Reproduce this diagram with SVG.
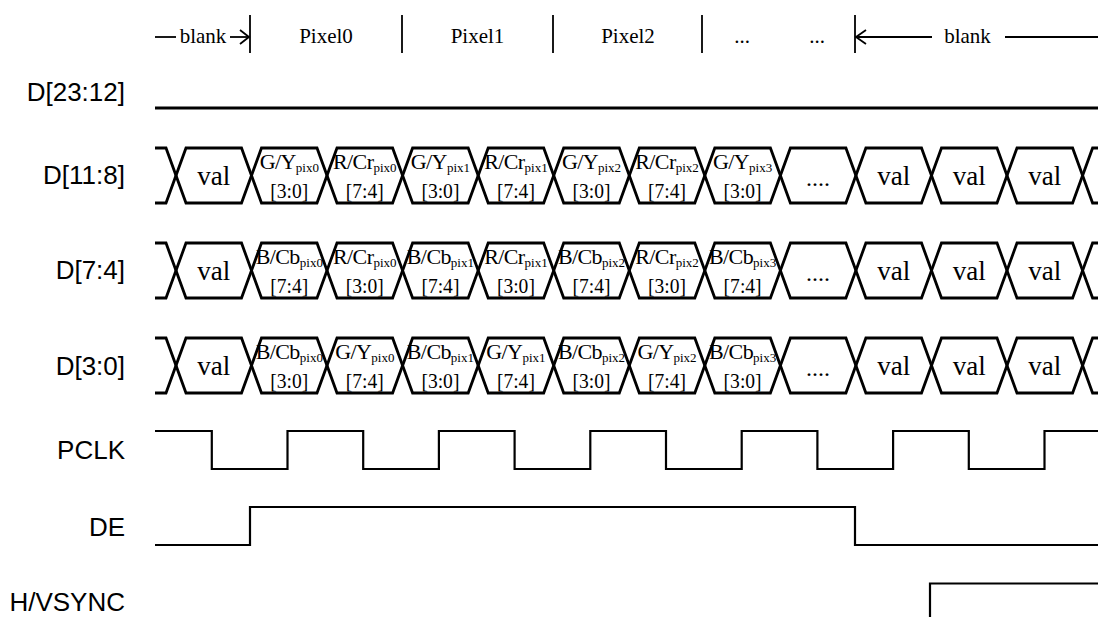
<svg xmlns="http://www.w3.org/2000/svg" xmlns:xlink="http://www.w3.org/1999/xlink" width="1098" height="617" viewBox="0 0 1098 617">
<style>
.lbl{font-family:"Liberation Sans",Arial,sans-serif;font-size:26px;fill:#000;text-anchor:end}
.hdr{font-family:"Liberation Serif","Times New Roman",serif;font-size:21px;fill:#000;text-anchor:middle}
.c1{font-family:"Liberation Serif","Times New Roman",serif;font-size:22px;fill:#000;text-anchor:middle;letter-spacing:-0.6px}
.c2{font-family:"Liberation Serif","Times New Roman",serif;font-size:22px;fill:#000;text-anchor:middle}
.val{font-family:"Liberation Serif","Times New Roman",serif;font-size:27px;fill:#000;text-anchor:middle}
.dots{font-family:"Liberation Serif","Times New Roman",serif;font-size:24px;fill:#000;text-anchor:middle}
.sub{font-size:13px;letter-spacing:0}
.bus{fill:none;stroke:#000;stroke-width:2.8;stroke-linejoin:miter}
.sig{fill:none;stroke:#000;stroke-width:2.2}
.mk{fill:none;stroke:#000;stroke-width:1.8}
</style>
<defs>
<g id="busshape">
<path class="bus" d="M155,0 H166 L186,55 H241.5 L261.5,0 H317 L337,55 H392.6 L412.6,0 H468.2 L488.2,55 H543.7 L563.7,0 H619.3 L639.3,55 H694.8 L714.8,0 H770.4 L790.4,55 H845.9 L865.9,0 H921.5 L941.5,55 H997 L1017,0 H1072.6 L1092.6,55 H1098"/>
<path class="bus" d="M155,55 H166 L186,0 H241.5 L261.5,55 H317 L337,0 H392.6 L412.6,55 H468.2 L488.2,0 H543.7 L563.7,55 H619.3 L639.3,0 H694.8 L714.8,55 H770.4 L790.4,0 H845.9 L865.9,55 H921.5 L941.5,0 H997 L1017,55 H1072.6 L1092.6,0 H1098"/>
</g>
</defs>

<g id="header">
<line class="mk" x1="155" y1="37" x2="176" y2="37"/>
<text class="hdr" x="203" y="43">blank</text>
<line class="mk" x1="230" y1="37" x2="249" y2="37"/>
<polyline class="mk" points="240,30 249,37 240,44"/>
<line class="mk" x1="250" y1="15" x2="250" y2="53"/>
<text class="hdr" x="326" y="43">Pixel0</text>
<line class="mk" x1="402" y1="15" x2="402" y2="53"/>
<text class="hdr" x="477.5" y="43">Pixel1</text>
<line class="mk" x1="553" y1="15" x2="553" y2="53"/>
<text class="hdr" x="628" y="43">Pixel2</text>
<line class="mk" x1="702" y1="15" x2="702" y2="53"/>
<text class="hdr" x="742" y="43">...</text>
<text class="hdr" x="817" y="43">...</text>
<line class="mk" x1="855" y1="15" x2="855" y2="53"/>
<line class="mk" x1="856" y1="37" x2="932" y2="37"/>
<polyline class="mk" points="866,30 856,37 866,44"/>
<text class="hdr" x="967.5" y="43">blank</text>
<line class="mk" x1="1005" y1="37" x2="1098" y2="37"/>
</g>

<g id="labels">
<text class="lbl" x="125" y="101">D[23:12]</text>
<text class="lbl" x="125" y="184">D[11:8]</text>
<text class="lbl" x="125" y="279">D[7:4]</text>
<text class="lbl" x="125" y="375">D[3:0]</text>
<text class="lbl" x="125" y="459">PCLK</text>
<text class="lbl" x="125" y="536">DE</text>
<text class="lbl" x="125" y="611">H/VSYNC</text>
</g>

<g id="d23_12">
<line class="bus" x1="155" y1="108" x2="1098" y2="108"/>
</g>

<g id="d11_8">
<use xlink:href="#busshape" href="#busshape" y="148"/>
<text class="val" x="213.75" y="185">val</text>
<text class="c1" x="289.3" y="169">G/Y<tspan class="sub" dy="3">pix0</tspan></text>
<text class="c2" x="289.3" y="198" textLength="38" lengthAdjust="spacingAndGlyphs">[3:0]</text>
<text class="c1" x="364.8" y="169">R/Cr<tspan class="sub" dy="3">pix0</tspan></text>
<text class="c2" x="364.8" y="198" textLength="38" lengthAdjust="spacingAndGlyphs">[7:4]</text>
<text class="c1" x="440.4" y="169">G/Y<tspan class="sub" dy="3">pix1</tspan></text>
<text class="c2" x="440.4" y="198" textLength="38" lengthAdjust="spacingAndGlyphs">[3:0]</text>
<text class="c1" x="515.9" y="169">R/Cr<tspan class="sub" dy="3">pix1</tspan></text>
<text class="c2" x="515.9" y="198" textLength="38" lengthAdjust="spacingAndGlyphs">[7:4]</text>
<text class="c1" x="591.5" y="169">G/Y<tspan class="sub" dy="3">pix2</tspan></text>
<text class="c2" x="591.5" y="198" textLength="38" lengthAdjust="spacingAndGlyphs">[3:0]</text>
<text class="c1" x="667" y="169">R/Cr<tspan class="sub" dy="3">pix2</tspan></text>
<text class="c2" x="667" y="198" textLength="38" lengthAdjust="spacingAndGlyphs">[7:4]</text>
<text class="c1" x="742.6" y="169">G/Y<tspan class="sub" dy="3">pix3</tspan></text>
<text class="c2" x="742.6" y="198" textLength="38" lengthAdjust="spacingAndGlyphs">[3:0]</text>
<text class="dots" x="818.1" y="186">....</text>
<text class="val" x="893.7" y="185">val</text>
<text class="val" x="969.2" y="185">val</text>
<text class="val" x="1044.8" y="185">val</text>
</g>

<g id="d7_4">
<use xlink:href="#busshape" href="#busshape" y="243"/>
<text class="val" x="213.75" y="280">val</text>
<text class="c1" x="289.3" y="264">B/Cb<tspan class="sub" dy="3">pix0</tspan></text>
<text class="c2" x="289.3" y="293" textLength="38" lengthAdjust="spacingAndGlyphs">[7:4]</text>
<text class="c1" x="364.8" y="264">R/Cr<tspan class="sub" dy="3">pix0</tspan></text>
<text class="c2" x="364.8" y="293" textLength="38" lengthAdjust="spacingAndGlyphs">[3:0]</text>
<text class="c1" x="440.4" y="264">B/Cb<tspan class="sub" dy="3">pix1</tspan></text>
<text class="c2" x="440.4" y="293" textLength="38" lengthAdjust="spacingAndGlyphs">[7:4]</text>
<text class="c1" x="515.9" y="264">R/Cr<tspan class="sub" dy="3">pix1</tspan></text>
<text class="c2" x="515.9" y="293" textLength="38" lengthAdjust="spacingAndGlyphs">[3:0]</text>
<text class="c1" x="591.5" y="264">B/Cb<tspan class="sub" dy="3">pix2</tspan></text>
<text class="c2" x="591.5" y="293" textLength="38" lengthAdjust="spacingAndGlyphs">[7:4]</text>
<text class="c1" x="667" y="264">R/Cr<tspan class="sub" dy="3">pix2</tspan></text>
<text class="c2" x="667" y="293" textLength="38" lengthAdjust="spacingAndGlyphs">[3:0]</text>
<text class="c1" x="742.6" y="264">B/Cb<tspan class="sub" dy="3">pix3</tspan></text>
<text class="c2" x="742.6" y="293" textLength="38" lengthAdjust="spacingAndGlyphs">[7:4]</text>
<text class="dots" x="818.1" y="281">....</text>
<text class="val" x="893.7" y="280">val</text>
<text class="val" x="969.2" y="280">val</text>
<text class="val" x="1044.8" y="280">val</text>
</g>

<g id="d3_0">
<use xlink:href="#busshape" href="#busshape" y="338"/>
<text class="val" x="213.75" y="375">val</text>
<text class="c1" x="289.3" y="359">B/Cb<tspan class="sub" dy="3">pix0</tspan></text>
<text class="c2" x="289.3" y="388" textLength="38" lengthAdjust="spacingAndGlyphs">[3:0]</text>
<text class="c1" x="364.8" y="359">G/Y<tspan class="sub" dy="3">pix0</tspan></text>
<text class="c2" x="364.8" y="388" textLength="38" lengthAdjust="spacingAndGlyphs">[7:4]</text>
<text class="c1" x="440.4" y="359">B/Cb<tspan class="sub" dy="3">pix1</tspan></text>
<text class="c2" x="440.4" y="388" textLength="38" lengthAdjust="spacingAndGlyphs">[3:0]</text>
<text class="c1" x="515.9" y="359">G/Y<tspan class="sub" dy="3">pix1</tspan></text>
<text class="c2" x="515.9" y="388" textLength="38" lengthAdjust="spacingAndGlyphs">[7:4]</text>
<text class="c1" x="591.5" y="359">B/Cb<tspan class="sub" dy="3">pix2</tspan></text>
<text class="c2" x="591.5" y="388" textLength="38" lengthAdjust="spacingAndGlyphs">[3:0]</text>
<text class="c1" x="667" y="359">G/Y<tspan class="sub" dy="3">pix2</tspan></text>
<text class="c2" x="667" y="388" textLength="38" lengthAdjust="spacingAndGlyphs">[7:4]</text>
<text class="c1" x="742.6" y="359">B/Cb<tspan class="sub" dy="3">pix3</tspan></text>
<text class="c2" x="742.6" y="388" textLength="38" lengthAdjust="spacingAndGlyphs">[3:0]</text>
<text class="dots" x="818.1" y="376">....</text>
<text class="val" x="893.7" y="375">val</text>
<text class="val" x="969.2" y="375">val</text>
<text class="val" x="1044.8" y="375">val</text>
</g>

<g id="pclk">
<path class="sig" d="M155,431 H211.8 V469 H287.5 V431 H363.2 V469 H438.9 V431 H514.6 V469 H590.3 V431 H666 V469 H741.7 V431 H817.4 V469 H893.1 V431 H968.8 V469 H1044.5 V431 H1098"/>
</g>

<g id="de">
<path class="sig" d="M155,545 H250 V507 H855 V545 H1098"/>
</g>

<g id="hvsync">
<path class="sig" d="M930,617 V583.5 H1098"/>
</g>
</svg>
